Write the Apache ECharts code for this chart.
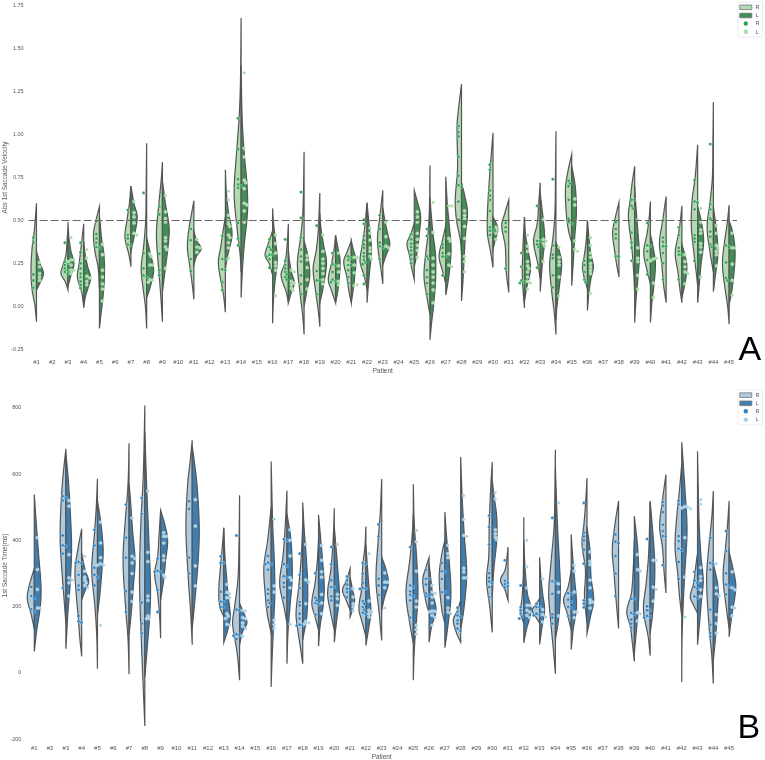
<!DOCTYPE html>
<html>
<head>
<meta charset="utf-8">
<title>Saccade violins</title>
<script src="https://cdn.jsdelivr.net/npm/echarts@6/dist/echarts.min.js"></script>
<style>
  html, body { margin: 0; padding: 0; background: #fff; }
  #chart { width: 765px; height: 760px; filter: blur(0.45px); }
</style>
</head>
<body>
<div id="chart"></div>
<script>
const patients = ['#1','#2','#3','#4','#5','#6','#7','#8','#9','#10','#11','#12','#13','#14','#15','#16','#17','#18','#19','#20','#21','#22','#23','#24','#25','#26','#27','#28','#29','#30','#31','#32','#33','#34','#35','#36','#37','#38','#39','#40','#41','#42','#43','#44','#45']

// panel A, density profiles: [value, density] from low to high, one row per patient
const velocityShapeR = [
  [[-.09,0],[0,1.5],[.1,4.5],[.2,5.5],[.33,4.5],[.45,2],[.6,0]],
  null,
  [[.095,0],[.14,2.5],[.19,7],[.24,5],[.3,2],[.4,.7],[.45,0]],
  [[0,0],[.08,2],[.17,6.3],[.25,4.5],[.35,2.5],[.48,0]],
  [[.1,0],[.22,1.2],[.32,4.5],[.42,6],[.5,3.5],[.58,0]],
  null,
  [[.23,0],[.3,2],[.4,6],[.5,4],[.6,1.5],[.7,0]],
  [[-.13,0],[0,1.3],[.1,3.5],[.22,5.5],[.35,3],[.5,1],[.7,.5],[.95,0]],
  [[-.09,0],[.05,1.5],[.2,3.5],[.42,6],[.6,3.5],[.75,1],[.84,0]],
  null,
  [[.04,0],[.12,1.5],[.25,4.5],[.34,6.5],[.45,5],[.55,2],[.615,0]],
  null,
  [[-.035,0],[.07,2],[.18,5.5],[.26,7],[.35,4.5],[.45,2],[.52,0]],
  [[.2,0],[.3,1],[.45,4],[.66,7],[.9,4.5],[1.1,2],[1.3,.7],[1.68,0]],
  null,
  [[.18,0],[.25,3.5],[.295,7.6],[.37,4],[.44,0]],
  [[.02,0],[.08,2],[.18,7.3],[.25,3.5],[.35,1.3],[.48,0]],
  [[-.165,0],[-.05,1.5],[.1,4.5],[.25,6.7],[.4,3.5],[.55,1.2],[.9,0]],
  [[-.12,0],[-.03,1.5],[.1,4.5],[.22,6.7],[.33,3.5],[.45,1.5],[.66,0]],
  [[.02,0],[.09,4],[.155,7.3],[.25,4],[.33,1.5],[.415,0]],
  [[.02,0],[.09,2.5],[.17,4.5],[.26,7.6],[.32,4],[.38,0]],
  [[.1,0],[.18,3],[.26,7],[.35,5],[.45,2.5],[.605,0]],
  [[.13,0],[.22,2],[.32,4.5],[.4,5.3],[.52,3],[.675,0]],
  null,
  [[.155,0],[.22,2.5],[.3,5],[.365,7.3],[.42,3.5],[.485,0]],
  [[-.05,0],[.05,3],[.17,6],[.3,4.5],[.42,2],[.55,.7],[.82,0]],
  [[.13,0],[.2,3],[.29,6.7],[.38,3.5],[.47,0]],
  [[.3,0],[.38,1],[.5,5],[.62,6.3],[.8,4],[1.05,4.5],[1.15,3],[1.295,0]],
  null,
  [[.225,0],[.32,2.5],[.42,5.5],[.55,5.5],[.75,3.5],[.9,1.5],[1.01,0]],
  [[.08,0],[.2,2.5],[.35,3.5],[.47,7],[.54,4],[.62,0]],
  [[-.01,0],[.1,1.5],[.2,2.2],[.35,1.5],[.52,0]],
  [[.16,0],[.25,2.5],[.38,6.7],[.48,3],[.6,1.5],[.72,0]],
  [[-.165,0],[-.05,1.5],[.1,4.5],[.25,6.3],[.4,3],[.55,1],[.75,.5],[1.02,0]],
  [[.37,0],[.45,3.5],[.55,5.5],[.68,6.3],[.78,4],[.885,0]],
  [[.1,0],[.16,3],[.23,5],[.3,3],[.4,1],[.5,0]],
  null,
  [[.17,0],[.25,2.5],[.33,4.5],[.43,6.3],[.52,3.5],[.605,0]],
  [[.075,0],[.2,1],[.35,3],[.52,6.3],[.62,4.5],[.72,2.5],[.815,0]],
  [[.13,0],[.2,3],[.31,6.7],[.42,3.5],[.5,1.5],[.61,0]],
  [[.02,0],[.12,2.5],[.25,4.5],[.37,6.7],[.5,3.5],[.64,0]],
  [[.02,0],[.1,2],[.2,4],[.31,6.7],[.42,3.5],[.5,1.5],[.585,0]],
  [[.12,0],[.2,1.5],[.3,3.5],[.46,6.3],[.62,5.5],[.75,2.5],[.94,0]],
  [[.2,0],[.3,3],[.46,6.3],[.6,3.5],[.75,1],[.95,.5],[1.19,0]],
  [[-.105,0],[0,1.5],[.12,4.5],[.25,6.7],[.38,4.5],[.48,2],[.59,0]]
]
const velocityShapeL = [
  [[.095,0],[.13,3],[.19,7],[.25,3.5],[.32,0]],
  null,
  [[.115,0],[.17,2.5],[.25,6],[.32,3],[.4,1],[.49,0]],
  [[-.01,0],[.05,1.5],[.11,4.5],[.165,7],[.23,4],[.3,1.5],[.38,0]],
  [[-.13,0],[-.05,1.5],[.05,3.5],[.17,5],[.3,4.5],[.4,2],[.5,.5],[.52,0]],
  null,
  [[.32,0],[.4,3],[.52,6.3],[.6,3],[.7,0]],
  [[.05,0],[.1,3],[.21,7],[.3,4],[.4,0]],
  [[.08,0],[.2,2.5],[.35,5.7],[.46,6.7],[.6,3],[.73,0]],
  null,
  [[.24,0],[.29,2.5],[.335,7.3],[.38,3],[.435,0]],
  null,
  [[.22,0],[.3,2.5],[.42,6.7],[.55,3],[.66,1],[.795,0]],
  [[.05,0],[.2,1.2],[.35,3],[.55,6.4],[.7,6],[.9,3],[1.1,1],[1.4,0]],
  null,
  [[-.1,0],[.03,.8],[.15,2.5],[.26,4.7],[.38,3],[.48,1],[.57,0]],
  [[.02,0],[.08,3],[.135,6],[.2,3],[.27,1],[.33,0]],
  [[0,0],[.08,2.5],[.18,5.7],[.3,3.5],[.38,0]],
  [[.02,0],[.1,3],[.25,6.7],[.35,4],[.45,1.2],[.54,0]],
  [[.02,0],[.08,2],[.15,3.5],[.27,4.5],[.35,2],[.415,0]],
  [[.02,0],[.1,2],[.18,3.5],[.27,4.5],[.33,2],[.38,0]],
  [[.02,0],[.1,1],[.2,2.5],[.33,4.5],[.45,2.5],[.55,.8],[.6,0]],
  [[.24,0],[.3,3.5],[.355,7],[.42,5],[.5,2],[.575,0]],
  null,
  [[.23,0],[.3,2.5],[.42,5],[.53,6.3],[.6,3.5],[.675,0]],
  [[-.195,0],[-.1,1.5],[0,3.5],[.15,5.5],[.3,5.5],[.42,3],[.55,1],[.63,0]],
  [[.065,0],[.15,2.5],[.25,4.5],[.35,5.3],[.47,3.5],[.6,1.5],[.755,0]],
  [[.03,0],[.15,1.5],[.3,2.8],[.42,4],[.55,6],[.65,3],[.72,0]],
  null,
  [[.33,0],[.38,2],[.445,5],[.48,3.5],[.52,0]],
  null,
  [[.03,0],[.1,2],[.22,6],[.33,3.5],[.42,1],[.52,0]],
  [[.085,0],[.2,1.5],[.3,3],[.38,4.5],[.48,3.5],[.58,1.5],[.66,0]],
  [[-.08,0],[0,1],[.12,3.5],[.25,5.7],[.33,3],[.37,0]],
  [[.12,0],[.25,1.5],[.4,3],[.55,4.7],[.7,3.5],[.82,0]],
  [[-.025,0],[.08,1.5],[.16,3.5],[.23,6],[.3,3.5],[.4,1.5],[.5,0]],
  null,
  null,
  [[-.095,0],[.05,1.5],[.18,3.5],[.3,4.7],[.45,3],[.6,1],[.7,0]],
  [[-.095,0],[.02,1.5],[.12,3.5],[.25,5],[.35,2.5],[.42,0]],
  null,
  [[.05,0],[.13,3],[.23,5],[.3,3],[.36,0]],
  [[.02,0],[.12,1.5],[.25,3.5],[.38,6],[.5,3.5],[.58,0]],
  [[.085,0],[.18,2],[.3,4.5],[.42,3.5],[.58,0]],
  [[.01,0],[.1,3],[.3,6],[.42,4],[.5,0]]
]
const velocityPointsR = [
  [.4,.37,.185,.15,.107],[],[.37,.26,.25,.24,.22,.21,.2,.19],[.37,.315,.25,.22,.19,.17,.145,.125,.105],[.495,.42,.395,.37,.345,.34],[],
  [.56,.415,.395,.36,.355],[.66,.31,.22,.18,.17],[.58,.535,.305,.21,.18],[],[.45,.385,.275,.205],[],
  [.41,.275,.27,.215,.21,.14,.095],[1.095,.915,.74,.71,.7,.69,.485,.395,.355],[],[.39,.345,.33,.3,.3,.29,.275,.225],[.39,.265,.24,.22,.2,.185,.17,.155],
  [.665,.515,.4,.33,.29,.26,.18,.13,.07],[.47,.205,.15,.15,.07],[.31,.245,.235,.2,.155,.145,.14],[.29,.28,.27,.24,.24,.21,.17,.135],
  [.505,.48,.41,.385,.36,.34,.31,.29,.27,.255,.245,.18,.13],[.53,.45,.37,.35,.34,.275],[],[.42,.39,.365,.345,.325,.3,.275,.25],
  [.45,.41,.29,.275,.21,.17,.135,.07],[.36,.34,.31,.29,.29,.18],[1.05,1.015,.99,.87,.76,.705,.695,.61,.505],[],
  [.825,.795,.675,.645,.62,.555,.46,.44,.44,.415],[.485,.46,.435,.22],[.31,.23,.15,.14,.135],[.585,.38,.38,.36,.345,.225],[.74,.355,.3,.28,.18,.11],
  [.73,.715,.7,.62,.51,.49,.48],[.265,.24,.2,.155,.14],[],[.49,.45,.42,.395,.29,.29],[.62,.62,.585,.57,.43,.37,.34,.265],[.485,.355,.35,.32,.27,.27,.185],
  [.5,.4,.375,.35,.35,.31,.25,.155],[.46,.415,.34,.32,.3,.3,.155],[.735,.61,.605,.565,.415,.395,.375,.265],[.945,.595,.565,.51,.435,.405,.36,.345],[.355,.345,.255,.165,.15]
]
const velocityPointsL = [
  [.255,.23,.19,.17,.15],[],[.4,.27,.27,.26,.24,.21,.21,.19],[.33,.28,.175,.165,.145,.125],[.36,.3,.21,.17,.13,.1,.03],[],
  [.61,.545,.52,.485,.425,.415],[.305,.29,.24,.24,.155,.15,.14],[.645,.55,.51,.49,.4,.38,.345,.33,.22],[],[.39,.345,.34,.315],[],
  [.67,.62,.53,.5,.48,.465,.415,.4,.37,.34,.28],[1.36,.92,.87,.735,.72,.685,.6,.59,.555,.49],[],[.415,.365,.31,.255,.235,.21,.06],[.21,.2,.145,.135,.125,.105,.09],
  [.295,.27,.225,.155,.1],[.415,.32,.275,.25,.22,.19,.155,.13],[.31,.235,.2,.145,.125],[.285,.285,.24,.195,.12,.125],
  [.455,.425,.385,.34,.32,.29,.275],[.49,.405,.35,.34],[],[.55,.52,.49,.425,.39,.355,.325,.285],
  [.605,.43,.28,.24,.2,.17,.135,.095,.02],[.585,.585,.395,.38,.305,.24,.23],[.555,.53,.51,.465,.395,.29,.26,.2],[],
  [.46,.445,.425,.39],[],[.415,.35,.32,.26,.235,.22,.2,.17,.145,.135,.1],[.505,.39,.38,.365,.35,.26],[.345,.285,.26,.24,.17,.06],
  [.625,.59,.38,.33,.32],[.4,.355,.31,.285,.25,.23,.21,.19,.075],[],[],[.505,.34,.28,.26,.18,.1],[.275,.28,.265,.135,.05],
  [],[.3,.26,.23,.2,.19,.13],[.57,.49,.445,.425,.365,.345,.315,.17],[.47,.425,.355,.34,.32,.3,.235],[.425,.34,.34,.245,.15,.065]
]

// panel B, same layout as panel A
const timeShapeR = [
  [[133,0],[175,3],[225,7],[270,4.5],[315,0]],
  null,
  [[150,0],[230,2],[310,4],[400,5.7],[500,5],[590,3],[676,0]],
  [[50,0],[110,2],[170,3.5],[240,5.5],[310,6.7],[370,4],[435,0]],
  [[13,0],[110,.7],[200,2.5],[310,5.7],[420,3],[500,1.2],[586,0]],
  null,
  [[-4,0],[100,1],[200,3.5],[340,6],[450,4],[570,1],[693,0]],
  [[-160,0],[-50,1.5],[100,3.5],[280,5.3],[450,4],[600,1.5],[807,0]],
  [[105,0],[170,1],[240,3],[300,6],[350,3],[420,1.5],[490,0]],
  null,
  [[85,0],[180,1.5],[290,4],[440,6.3],[570,4.5],[640,2],[702,0]],
  null,
  [[170,0],[200,4],[250,5],[330,3],[380,1.5],[438,0]],
  [[-22,0],[50,2],[100,4.5],[150,7],[200,5],[280,1.7],[400,.5],[536,0]],
  null,
  [[120,0],[180,4],[240,6],[320,7.3],[400,3.5],[500,0]],
  [[150,0],[200,3],[270,7.3],[350,4],[430,2],[550,0]],
  [[28,0],[80,2.5],[130,5],[180,6.7],[260,4],[350,1.5],[450,0]],
  [[130,0],[170,3.5],[210,6.7],[270,3.5],[340,1.2],[400,0]],
  [[130,0],[180,3.5],[240,6.7],[310,3.5],[400,1.2],[497,0]],
  [[190,0],[220,4],[250,7.6],[280,3.5],[315,0]],
  [[110,0],[150,3.5],[195,7],[250,4.5],[330,3],[380,1],[442,0]],
  [[98,0],[180,2.5],[280,5.7],[400,3.5],[480,1.5],[585,0]],
  null,
  [[90,0],[140,3],[240,7.3],[340,3.5],[420,1],[480,0]],
  [[180,0],[220,3.5],[280,6.3],[320,3],[348,0]],
  [[150,0],[190,3],[290,5.7],[360,3],[400,0]],
  [[93,0],[120,4],[160,7.3],[190,3],[220,0]],
  null,
  [[122,0],[200,2.5],[280,5.7],[350,3.5],[450,3],[560,1.5],[636,0]],
  [[219,0],[250,3],[280,7.6],[310,3],[350,1],[380,0]],
  [[150,0],[170,2.5],[190,3.5],[220,2],[300,.5],[470,0]],
  [[150,0],[170,4],[190,7.5],[205,4],[225,0]],
  [[-2,0],[70,2],[150,4.5],[240,6.7],[330,4.5],[450,1.2],[673,0]],
  [[130,0],[180,4],[220,7.6],[260,3],[310,0]],
  [[150,0],[230,2.5],[310,1.5],[390,5],[450,3],[520,1.2],[588,0]],
  null,
  [[134,0],[220,2.5],[300,4.5],[370,6.3],[440,4],[519,0]],
  [[35,0],[90,2],[140,4],[185,7.6],[240,3],[310,1.2],[400,0]],
  [[52,0],[110,2],[190,6.7],[270,4],[360,1.5],[518,0]],
  [[241,0],[310,2],[380,3.5],[440,6.3],[510,4],[598,0]],
  [[170,0],[240,2.5],[300,4],[380,6.7],[470,5],[560,2],[630,0]],
  [[180,0],[205,4],[230,7.3],[270,4],[340,1],[360,0]],
  [[-32,0],[60,1.7],[130,4],[280,6.7],[380,4.5],[470,1.5],[549,0]],
  [[135,0],[190,2.5],[290,6],[380,3.5],[450,1.5],[519,0]]
]
const timeShapeL = [
  [[65,0],[130,2.5],[200,6],[260,6.7],[350,4.5],[450,2],[538,0]],
  null,
  [[73,0],[180,2],[280,4.5],[380,5.7],[480,4.5],[580,2.5],[663,0]],
  [[220,0],[245,3],[275,7],[310,3.5],[360,0]],
  [[174,0],[240,2.5],[310,4.5],[370,5.7],[450,3.5],[520,0]],
  null,
  [[115,0],[190,2.5],[270,4.5],[340,6],[430,3.5],[530,1.2],[570,0]],
  [[-12,0],[80,2.5],[180,5],[260,5.7],[400,4],[550,2],[727,0]],
  [[220,0],[280,3],[340,5],[400,7],[450,4],[490,0]],
  null,
  [[134,0],[230,3],[340,6],[440,7],[560,5],[640,2],[685,0]],
  null,
  [[92,0],[130,4],[170,6.5],[230,4.5],[300,2.5],[360,1],[438,0]],
  [[85,0],[125,3],[150,7.3],[175,5],[210,0]],
  null,
  [[-42,0],[50,1],[150,2.5],[250,3.7],[350,3],[450,1.5],[638,0]],
  [[28,0],[120,1],[200,3],[290,5.3],[400,4],[480,0]],
  [[100,0],[170,4],[260,5],[350,3.5],[430,1.5],[514,0]],
  [[81,0],[140,1.5],[200,4.5],[260,5.7],[340,4],[477,0]],
  [[93,0],[150,2],[230,5],[310,3.5],[440,0]],
  [[169,0],[195,3],[222,4.5],[250,2.5],[290,0]],
  [[83,0],[130,2.5],[185,5],[240,3.5],[320,1.5],[385,0]],
  [[190,0],[230,3],[270,6.7],[310,4.5],[350,0]],
  null,
  [[-22,0],[70,1],[150,3],[240,4.7],[340,3.5],[450,1],[569,0]],
  [[93,0],[140,2.5],[190,7],[240,3.5],[290,1.5],[330,0]],
  [[76,0],[130,2.5],[230,6],[330,4.5],[400,2],[485,0]],
  [[130,0],[200,3.5],[300,6],[420,3.5],[530,1.5],[651,0]],
  null,
  [[230,0],[310,1.5],[400,4.5],[470,4.5],[530,2],[580,0]],
  null,
  [[91,0],[130,2.5],[190,7.3],[240,3.5],[330,1],[400,0]],
  [[86,0],[130,2],[190,5],[240,3],[300,1],[348,0]],
  [[100,0],[170,3.5],[250,5],[330,4],[450,2],[616,0]],
  [[71,0],[130,2],[200,5.3],[280,3.5],[350,1.5],[418,0]],
  [[119,0],[170,3.5],[220,6.7],[290,4],[370,3],[440,0]],
  null,
  null,
  [[60,0],[110,1.5],[180,3.5],[260,4.5],[370,3.5],[473,0]],
  [[120,0],[180,2.5],[280,4.5],[340,4.5],[430,2.5],[518,0]],
  null,
  [[-27,0],[100,.3],[210,1.5],[300,3],[430,5.3],[540,3.5],[696,0]],
  [[85,0],[150,2],[220,4],[280,5.7],[350,3.5],[460,1.5],[669,0]],
  [[38,0],[100,2],[180,4],[260,4.7],[330,0]],
  [[109,0],[170,2.5],[260,6.7],[320,3.5],[365,0]]
]
const timePointsR = [
  [260,232,225,192,185],[],[533,528,520,415,385,382,360,256],[335,332,332,296,264,251,172,156,152],[432,385,317,296,289,264],[],
  [508,408,348,247,184],[528,480,212,149,120],[345,308,305,305,251,184],[],[518,495,348,300],[],
  [352,332,332,245,215,215,199,199],[415,191,189,117,115,112,111,102],[],[353,333,328,328,312,252,239,219,211,199],[404,400,328,322,292,288,272,259,227],
  [360,296,256,214,204,179,164,146,144,143],[301,227,219,211,207,176],[380,328,280,259,259,231,219],[291,279,267,254,254,244,229],
  [332,328,300,272,257,254,254,217,209,199,191,182,177],[448,412,284,264,236],[],[380,264,259,246,236,231,219,167],
  [312,284,284,267,240,234,231],[332,307,305,284,244,244],[197,184,174,169,159,149,134,127],[],[475,440,388,301,287,276,271,259,229],[340,278,272,268,262,258],
  [264,199,189,179,171,164],[209,199,199,179,176,174],[468,277,272,239,177,167,149],[241,238,221,214,199,196,172],[513,423,412,400,372,330,219,209,198],[],
  [418,396,392,353,300,232],[224,224,181,177,161,149,137],[404,201,189,189,172,170,167],[516,505,485,447,428,413,412,325],
  [520,509,413,398,375,370,335,284],[305,279,272,259,255,231,227],[408,332,328,312,191,146,120,110],[428,368,301,267,261,237]
]
const timePointsL = [
  [408,312,252,196,196],[],[520,503,357,287,280,272,232],[352,307,289,280,272,264,257],[455,392,348,330,325,325,144],[],
  [468,352,345,332,300,244,216],[549,364,336,232,219,172,164,164],[423,412,412,392,353,340,295,287],[],[523,443,323,263],[],
  [267,243,239,227,227,179,171,164,147,144],[189,187,167,164,151,141,134,112],[],[464,263,244,159,146,134],[432,400,353,288,280,257,147],
  [388,281,274,209,156,151,148],[385,340,305,289,237,211,179],[388,237,224,204],[254,229,209,199,187],
  [360,217,189,184,179,169],[302,274,274,257,196],[],[430,396,307,217,199,144,131,117],
  [264,244,240,229,211,187,186,184,174,167,144],[385,360,348,227,196,184,179],[535,463,415,412,316,305,287,287],[],[544,525,432,420,410,402],[],
  [400,320,257,204,204,189,184,174,167],[284,191,176,169,154],[513,269,244,172],[325,307,244,184,184,167],[365,337,327,280,257,221,214,212,196],[],
  [],[357,312,307,182,179,157],[340,340,259,252,217],[],
  [502,500,498,495,408,289,169],[523,509,318,291,279,251,231],[330,257,239,232,176,149,120],[305,257,251,199,196,172]
]

const dashValue = 0.5

const textColor = '#555'
const edgeColor = '#555'
const fontFamily = '"Liberation Sans", Arial, sans-serif'
const greens = { fillR: '#b3dab0', fillL: '#3f8f56', dotR: '#2ea353', dotL: '#a5dda0' }
const blues = { fillR: '#afcadd', fillL: '#3d7fb2', dotR: '#2f84c4', dotL: '#a3cfe8' }

// smooth the knots a bit so the outline doesn't look like a polyline
function outlineOf(shape) {
  const out = []
  for (let k = 0; k < shape.length - 1; k++) {
    const [v0, d0] = shape[k]
    const [v1, d1] = shape[k + 1]
    const prev = shape[k - 1] || shape[k]
    const next = shape[k + 2] || shape[k + 1]
    const m0 = (d1 - prev[1]) / (v1 - prev[0])
    const m1 = (next[1] - d0) / (next[0] - v0)
    const h = v1 - v0
    for (let s = 0; s < 6; s++) {
      const t = s / 6
      const d = (2 * t * t * t - 3 * t * t + 1) * d0 + (t * t * t - 2 * t * t + t) * h * m0 +
        (-2 * t * t * t + 3 * t * t) * d1 + (t * t * t - t * t) * h * m1
      out.push([v0 + h * t, Math.max(d, 0)])
    }
  }
  out.push(shape[shape.length - 1])
  return out
}

function violinSeries(shapes, side, fill, gridIndex) {
  const items = []
  shapes.forEach((s, i) => { if (s) items.push([i]) })
  return {
    type: 'custom',
    xAxisIndex: gridIndex,
    yAxisIndex: gridIndex,
    silent: true,
    data: items,
    encode: { x: 0 },
    renderItem(params, api) {
      const i = api.value(0)
      const scale = api.size([1, 0])[0] / 15.75
      const cx = api.coord([i, 0])[0]
      const points = outlineOf(shapes[i]).map(([v, d]) => [cx + side * d * scale, api.coord([i, v])[1]])
      return {
        type: 'polygon',
        shape: { points },
        style: { fill, stroke: edgeColor, lineWidth: 1.2 }
      }
    }
  }
}

// simple swarm: each dot goes to the closest free slot next to its column
function swarmOffsets(ys) {
  const gap = 2.9
  const placed = []
  return ys.map(y => {
    let off = 0
    for (let n = 0; n < 20; n++) {
      off = (n % 2 ? 1 : -1) * Math.ceil(n / 2) * gap / 2
      if (!placed.some(p => Math.hypot(p[0] - off, p[1] - y) < gap)) break
    }
    placed.push([off, y])
    return off
  })
}

function dotSeries(pointLists, side, color, gridIndex) {
  const items = []
  pointLists.forEach((p, i) => { if (p.length) items.push([i]) })
  return {
    type: 'custom',
    xAxisIndex: gridIndex,
    yAxisIndex: gridIndex,
    silent: true,
    data: items,
    encode: { x: 0 },
    renderItem(params, api) {
      const i = api.value(0)
      const cx = api.coord([i, 0])[0] + side * 3.1
      const ys = pointLists[i].map(v => api.coord([i, v])[1])
      const offs = swarmOffsets(ys)
      return {
        type: 'group',
        children: ys.map((y, k) => ({
          type: 'circle',
          shape: { cx: cx + offs[k], cy: y, r: 1.6 },
          style: { fill: color, stroke: '#fff', lineWidth: 0.3 }
        }))
      }
    }
  }
}

function legendBox(top, c) {
  const x = 738
  const txt = (y, t) => ({
    type: 'text',
    x: 755.5,
    y,
    style: { text: t, fill: textColor, fontSize: 5.5, fontFamily, verticalAlign: 'middle' }
  })
  return [
    { type: 'rect', shape: { x, y: top, width: 25, height: 35, r: 1 }, style: { fill: '#fff', stroke: '#e8e8e8', lineWidth: 0.8 } },
    { type: 'rect', shape: { x: x + 1.8, y: top + 3, width: 12, height: 4.6 }, style: { fill: c.fillR, stroke: '#777', lineWidth: 0.8 } },
    { type: 'rect', shape: { x: x + 1.8, y: top + 11.2, width: 12, height: 4.6 }, style: { fill: c.fillL, stroke: '#777', lineWidth: 0.8 } },
    { type: 'circle', shape: { cx: x + 7.8, cy: top + 21.5, r: 2.2 }, style: { fill: c.dotR } },
    { type: 'circle', shape: { cx: x + 7.8, cy: top + 29.8, r: 2.2 }, style: { fill: c.dotL } },
    txt(top + 5.5, 'R'), txt(top + 13.6, 'L'), txt(top + 21.8, 'R'), txt(top + 30, 'L')
  ]
}

function xAxisOf(gridIndex, margin, nameGap) {
  return {
    type: 'category',
    gridIndex,
    data: patients,
    name: 'Patient',
    nameLocation: 'middle',
    nameGap,
    nameMoveOverlap: false,
    nameTextStyle: { color: textColor, fontSize: 6.4, fontFamily },
    axisLine: { show: false },
    axisTick: { show: false },
    splitLine: { show: false },
    axisLabel: { color: textColor, fontSize: 6, fontFamily, interval: 0, margin, hideOverlap: false }
  }
}

function yAxisOf(gridIndex, name, min, max, interval, fmt) {
  return {
    type: 'value',
    gridIndex,
    name,
    nameLocation: 'middle',
    nameGap: gridIndex ? 18 : 20.2,
    nameMoveOverlap: false,
    nameTextStyle: { color: textColor, fontSize: 6.4, fontFamily },
    min,
    max,
    interval,
    axisLine: { show: false },
    axisTick: { show: false },
    splitLine: { show: false },
    axisLabel: { color: textColor, fontSize: 5.5, fontFamily, margin: 5, formatter: fmt, showMaxLabel: gridIndex === 0 }
  }
}

const dashSeries = {
  type: 'line',
  xAxisIndex: 0,
  yAxisIndex: 0,
  data: [],
  silent: true,
  markLine: {
    silent: true,
    symbol: 'none',
    label: { show: false },
    lineStyle: { color: '#666', type: [8, 3], width: 1.2 },
    data: [{ yAxis: dashValue }]
  }
}

const chart = echarts.init(document.getElementById('chart'))
chart.setOption({
  animation: false,
  backgroundColor: '#fff',
  grid: [
    { left: 28.6, top: 5.9, width: 708.4, height: 343.2, outerBoundsMode: 'none' },
    { left: 26.4, top: 391.8, width: 710.6, height: 347.5, outerBoundsMode: 'none' }
  ],
  xAxis: [xAxisOf(0, 10.5, 19), xAxisOf(1, 6, 14.5)],
  yAxis: [
    yAxisOf(0, 'Abs 1st Saccade Velocity', -0.25, 1.75, 0.25, v => v.toFixed(2)),
    yAxisOf(1, '1st Saccade Time(ms)', -200, 848, 200, v => String(v))
  ],
  series: [
    violinSeries(velocityShapeR, -1, greens.fillR, 0),
    violinSeries(velocityShapeL, 1, greens.fillL, 0),
    dotSeries(velocityPointsR, -1, greens.dotR, 0),
    dotSeries(velocityPointsL, 1, greens.dotL, 0),
    dashSeries,
    violinSeries(timeShapeR, -1, blues.fillR, 1),
    violinSeries(timeShapeL, 1, blues.fillL, 1),
    dotSeries(timePointsR, -1, blues.dotR, 1),
    dotSeries(timePointsL, 1, blues.dotL, 1)
  ],
  graphic: [
    ...legendBox(2, greens),
    ...legendBox(389.8, blues),
    { type: 'text', x: 738.5, y: 351, style: { text: 'A', fill: '#000', fontSize: 34, fontFamily, verticalAlign: 'middle' } },
    { type: 'text', x: 737.5, y: 729, style: { text: 'B', fill: '#000', fontSize: 34, fontFamily, verticalAlign: 'middle' } }
  ]
})
</script>
</body>
</html>
